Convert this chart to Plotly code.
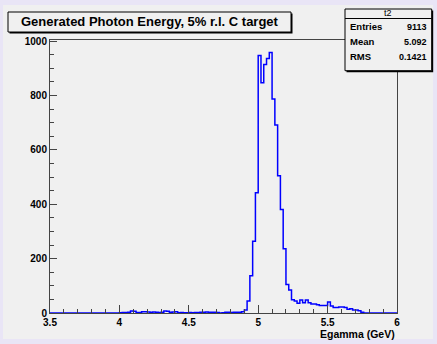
import numpy as np
import plotly.graph_objects as go

# ---- data ----
BIN_LOW = 3.5
BIN_HIGH = 6.0
N_BINS = 125
low_zero = [0] * 25  # 3.50 - 3.98
low_tail = [1, 2, 2, 3, 7, 6, 2, 2, 5, 5, 4, 3, 4, 3, 2, 3, 7, 6, 3, 4,
            5, 1, 2, 1, 1, 2, 1, 2, 2, 3, 3, 4, 3, 3, 3, 2, 0, 1, 3, 3,
            2, 3, 3, 3, 5]  # 4.00 - 4.88
peak = [11, 44, 137, 264, 442, 947, 847, 914, 936, 958, 787, 691, 505, 381,
        236, 105, 85]  # 4.90 - 5.22
high_tail = [49, 44, 36, 48, 38, 48, 38, 33, 33, 30, 28, 28, 28, 40, 26, 20,
             20, 22, 22, 20, 14, 16, 11, 11, 8, 3]  # 5.24 - 5.74
high_zero = [0] * 12  # 5.76 - 5.98
counts = low_zero + low_tail + peak + high_tail + high_zero
counts = counts[:N_BINS]

TITLE = "Generated Photon Energy, 5% r.l. C target"
X_TITLE = "Egamma (GeV)"
STATS_NAME = "t2"
STATS_LABELS = ["Entries", "Mean", "RMS"]
STATS_VALUES = ["9113", "5.092", "0.1421"]

# ---- geometry ----
W, H = 437, 344
L, R, T, B = 50, 40, 40, 31
PW = W - L - R
PH = H - T - B
FONT = "Liberation Sans"


def px(xp):
    return (xp - L) / PW


def py(yp):
    return (H - B - yp) / PH


edges = np.linspace(BIN_LOW, BIN_HIGH, N_BINS + 1)
yvals = list(counts) + [counts[-1]]

fig = go.Figure()
fig.add_trace(go.Scatter(
    x=edges, y=yvals, mode="lines", line_shape="hv",
    line=dict(color="#0000ff", width=1.5), hoverinfo="skip", showlegend=False))

shapes = []
# canvas gray area
shapes.append(dict(type="rect", xref="paper", yref="paper", layer="below",
                   x0=px(3), x1=px(433), y0=py(5), y1=py(339),
                   fillcolor="#f0f0f0", line=dict(width=0)))
# title box shadow + box
shapes.append(dict(type="rect", xref="paper", yref="paper",
                   x0=px(9.5), x1=px(292.5), y0=py(13.5), y1=py(33.5),
                   fillcolor="#000000", line=dict(width=0)))
shapes.append(dict(type="rect", xref="paper", yref="paper",
                   x0=px(8), x1=px(291), y0=py(12), y1=py(32),
                   fillcolor="#f0f0f0", line=dict(color="#000000", width=1)))
# stats box shadow + box
shapes.append(dict(type="rect", xref="paper", yref="paper",
                   x0=px(346.5), x1=px(433.2), y0=py(10.5), y1=py(72.2),
                   fillcolor="#000000", line=dict(width=0)))
shapes.append(dict(type="rect", xref="paper", yref="paper",
                   x0=px(345), x1=px(431.7), y0=py(9), y1=py(70.7),
                   fillcolor="#f0f0f0", line=dict(color="#000000", width=1)))
shapes.append(dict(type="line", xref="paper", yref="paper",
                   x0=px(345), x1=px(431.7), y0=py(18.5), y1=py(18.5),
                   line=dict(color="#000000", width=1)))

annotations = []
annotations.append(dict(text=f"<b>{TITLE}</b>", xref="paper", yref="paper",
                        x=px(149.5), y=py(21.5), xanchor="center", yanchor="middle",
                        showarrow=False, font=dict(family=FONT, size=13, color="#000")))
annotations.append(dict(text=STATS_NAME, xref="paper", yref="paper",
                        x=px(388), y=py(13.2), xanchor="center", yanchor="middle",
                        showarrow=False, font=dict(family=FONT, size=9, color="#000")))
for i, (lab, val) in enumerate(zip(STATS_LABELS, STATS_VALUES)):
    yy = 26.7 + 15 * i
    annotations.append(dict(text=f"<b>{lab}</b>", xref="paper", yref="paper",
                            x=px(348), y=py(yy), xanchor="left", yanchor="middle",
                            showarrow=False, font=dict(family=FONT, size=9.5, color="#000")))
    annotations.append(dict(text=f"<b>{val}</b>", xref="paper", yref="paper",
                            x=px(429), y=py(yy), xanchor="right", yanchor="middle",
                            showarrow=False, font=dict(family=FONT, size=9, color="#000")))
annotations.append(dict(text=f"<b>{X_TITLE}</b>", xref="paper", yref="paper",
                        x=px(397), y=py(333.5), xanchor="right", yanchor="middle",
                        showarrow=False, font=dict(family=FONT, size=10.5, color="#000")))

fig.update_layout(
    width=W, height=H, autosize=False,
    margin=dict(l=L, r=R, t=T, b=B, pad=0),
    paper_bgcolor="#e9e5f6", plot_bgcolor="rgba(0,0,0,0)",
    shapes=shapes, annotations=annotations,
    font=dict(family=FONT, size=10, color="#000"),
    xaxis=dict(range=[BIN_LOW, BIN_HIGH], tick0=3.5, dtick=0.5, ticks="inside",
               ticklen=8, tickcolor="#444", showgrid=False, zeroline=False,
               showline=True, linecolor="#444", linewidth=1, mirror=True,
               tickfont=dict(family=FONT, size=10, color="#000", weight="bold"),
               minor=dict(dtick=0.1, ticks="inside", ticklen=4, tickcolor="#444", showgrid=False)),
    yaxis=dict(range=[0, 1004], tick0=0, dtick=200, ticks="inside", tickformat="d",
               ticklen=7, tickcolor="#444", showgrid=False, zeroline=False,
               showline=True, linecolor="#444", linewidth=1, mirror=True,
               tickfont=dict(family=FONT, size=10, color="#000", weight="bold"),
               minor=dict(dtick=50, ticks="inside", ticklen=4, tickcolor="#444", showgrid=False)),
)

fig.write_html("out.html", config={"displayModeBar": False, "staticPlot": True},
               post_script="document.body.style.margin='0';document.body.style.padding='0';")
